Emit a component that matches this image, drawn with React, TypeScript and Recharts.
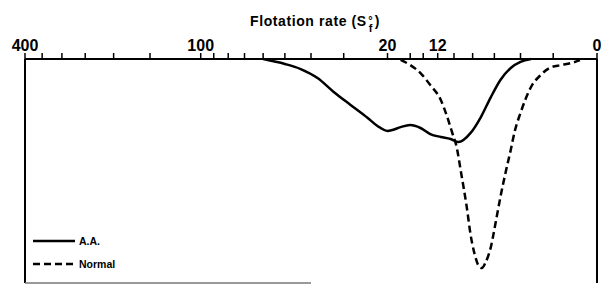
import { LineChart, Line, XAxis, YAxis, ReferenceLine } from 'recharts';

// flotation rate (Sf) of each point
const aaRate = [60, 50, 43.7, 37.8, 32.8, 28.2, 24.1, 22.0, 20.0, 19.1, 17.6, 16.0, 14.4, 13.0, 11.6, 10.4, 9.5, 8.2, 7.2, 6.3, 5.5, 4.7, 4.0, 3.3];
const aaConc = [0, 2.2, 4.5, 8.5, 14.7, 20.5, 26.3, 29.9, 32.1, 31.7, 30.4, 29.5, 30.8, 33.5, 34.8, 35.7, 37.1, 33.0, 25.9, 17.0, 9.4, 4.0, 1.3, 0];

const normalRate = [17.6, 16.0, 14.4, 13.0, 11.6, 10.8, 10.2, 9.7, 9.2, 8.6, 8.2, 7.8, 7.4, 7.1, 6.8, 6.3, 5.9, 5.5, 5.1, 4.7, 4.4, 4.0, 3.3, 2.7, 2.2, 1.6, 1.1, 0.7];
const normalConc = [0.4, 2.7, 6.3, 11.6, 18.3, 25.9, 33.0, 39.3, 50.9, 66.1, 78.6, 87.1, 92.4, 93.3, 91.1, 83.9, 73.2, 61.6, 50.9, 40.6, 32.1, 24.1, 12.5, 7.1, 4.0, 2.7, 1.8, 0.5];

const rateTicks = [400, 350, 300, 250, 200, 150, 100, 90, 80, 70, 60, 50, 40, 30, 20, 16, 14, 12, 10, 8, 6, 4, 2, 0];
const labeledTicks = [400, 100, 20, 12, 0];

// the rate axis is logarithmic in (Sf + 5)
const tx = (s: number) => Math.log10(s + 5);
const fromTx = (v: number) => Math.round(Math.pow(10, v) - 5);

const aaData = aaRate.map((s, i) => ({ x: tx(s), y: aaConc[i] }));
const normalData = normalRate.map((s, i) => ({ x: tx(s), y: normalConc[i] }));

const font = "'Liberation Sans', Arial, sans-serif";

function ChartLegend() {
  return (
    <div
      style={{
        position: 'absolute', left: 33, top: 229, fontFamily: font, fontWeight: 'bold',
        fontSize: 10.5, color: '#000'
      }}
    >
      <div style={{ display: 'flex', alignItems: 'center', height: 23 }}>
        <svg width={46} height={6}>
          <line x1={0} y1={3} x2={42} y2={3} stroke="#000" strokeWidth={2.5} />
        </svg>
        <span>A.A.</span>
      </div>
      <div style={{ display: 'flex', alignItems: 'center', height: 23 }}>
        <svg width={46} height={6}>
          <line x1={0} y1={3} x2={42} y2={3} stroke="#000" strokeWidth={2.5} strokeDasharray="7 4" />
        </svg>
        <span>Normal</span>
      </div>
    </div>
  );
}

export default function App() {
  return (
    <div style={{ position: 'absolute', left: 0, top: 0, width: 601, height: 285, background: '#fff' }}>
      <div
        style={{
          position: 'absolute', left: 250, top: 13, fontFamily: font, fontWeight: 'bold',
          fontSize: 14, letterSpacing: 0.6, color: '#000', whiteSpace: 'nowrap'
        }}
      >
        Flotation rate (S
        {/* degree sign stacked over the subscript f */}
        <span
          style={{
            display: 'inline-block', verticalAlign: -6, fontSize: 11, lineHeight: '8px',
            textAlign: 'center', width: 8, whiteSpace: 'pre-line'
          }}
        >
          {'°\nf'}
        </span>
        )
      </div>
      <LineChart width={601} height={285} margin={{ top: 19, right: 4, left: 25, bottom: 2 }}>
        <XAxis
          type="number"
          dataKey="x"
          orientation="top"
          domain={[tx(0), tx(400)]}
          reversed
          allowDataOverflow
          ticks={rateTicks.map(tx)}
          interval={0}
          tickFormatter={(v: number) => (labeledTicks.includes(fromTx(v)) ? String(fromTx(v)) : '')}
          tickSize={6}
          tickMargin={2}
          height={40}
          stroke="#000"
          axisLine={{ stroke: '#000', strokeWidth: 2 }}
          tickLine={{ stroke: '#000', strokeWidth: 1.5 }}
          tick={{ fill: '#000', fontSize: 16, fontWeight: 'bold', fontFamily: font }}
        />
        <YAxis type="number" domain={[0, 100]} reversed hide />
        <ReferenceLine x={tx(400)} stroke="#000" strokeWidth={2} />
        <ReferenceLine x={tx(0)} stroke="#000" strokeWidth={2} />
        <ReferenceLine segment={[{ x: tx(400), y: 100 }, { x: tx(40), y: 100 }]} stroke="#777" strokeWidth={1.5} />
        <Line
          data={aaData}
          dataKey="y"
          type="monotone"
          stroke="#000"
          strokeWidth={2.5}
          dot={false}
          isAnimationActive={false}
        />
        <Line
          data={normalData}
          dataKey="y"
          type="monotone"
          stroke="#000"
          strokeWidth={2.5}
          strokeDasharray="7 4"
          dot={false}
          isAnimationActive={false}
        />
      </LineChart>
      <ChartLegend />
    </div>
  );
}
